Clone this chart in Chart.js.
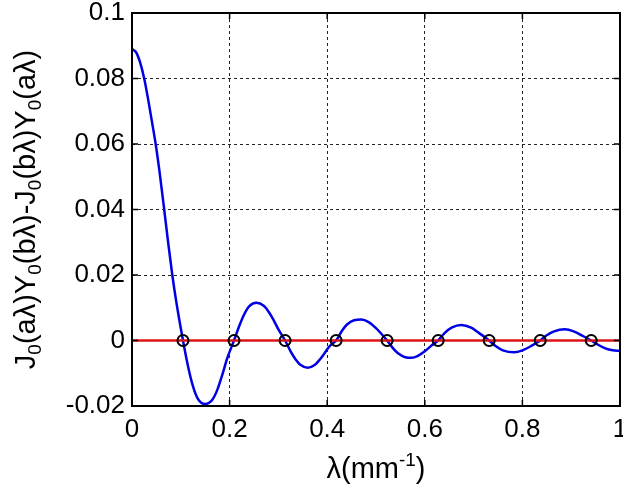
<!DOCTYPE html>
<html>
<head>
<meta charset="utf-8">
<script src="https://cdn.jsdelivr.net/npm/chart.js@4"></script>
<style>
  html, body { margin: 0; padding: 0; background: #fff; }
  #wrap { width: 623px; height: 491px; }
</style>
</head>
<body>
<div id="wrap"><canvas id="chart" width="623" height="491"></canvas></div>
<script>
// values
const lambdaValues = [
  0, 0.008, 0.016, 0.025, 0.033, 0.041, 0.0485, 0.056, 0.066, 0.074, 0.0826, 0.09, 0.1045,
  0.115, 0.125, 0.135, 0.15, 0.165, 0.175, 0.185, 0.195, 0.209,
  0.22, 0.23, 0.24, 0.255, 0.27, 0.28, 0.29, 0.30, 0.3137,
  0.325, 0.335, 0.345, 0.36, 0.375, 0.385, 0.395, 0.405, 0.4183,
  0.43, 0.44, 0.455, 0.47, 0.485, 0.50, 0.51, 0.5228,
  0.535, 0.545, 0.56, 0.573, 0.585, 0.60, 0.615, 0.6274,
  0.64, 0.655, 0.675, 0.695, 0.71, 0.7319,
  0.745, 0.76, 0.783, 0.80, 0.82, 0.8365,
  0.85, 0.865, 0.887, 0.905, 0.925, 0.941,
  0.955, 0.97, 0.985, 1.0
];
const crossValues = [
  0.0890, 0.0881, 0.0852, 0.0800, 0.0737, 0.0667, 0.0600, 0.0520, 0.0400, 0.0300, 0.0200, 0.0125, 0,
  -0.0080, -0.0140, -0.0178, -0.0194, -0.0180, -0.0150, -0.0105, -0.0055, 0,
  0.0045, 0.0080, 0.0104, 0.0115, 0.0106, 0.0088, 0.0063, 0.0034, 0,
  -0.0033, -0.0057, -0.0074, -0.0083, -0.0074, -0.0058, -0.0038, -0.0017, 0,
  0.0029, 0.0048, 0.0062, 0.0064, 0.0056, 0.0038, 0.0022, 0,
  -0.0024, -0.0039, -0.0051, -0.0053, -0.0048, -0.0033, -0.0014, 0,
  0.0022, 0.0039, 0.0047, 0.0039, 0.0024, 0,
  -0.0017, -0.0030, -0.0036, -0.0030, -0.0015, 0,
  0.0016, 0.0028, 0.0034, 0.0028, 0.0013, 0,
  -0.0013, -0.0024, -0.0030, -0.0032
];
const zeroCrossings = [0.1045, 0.209, 0.3137, 0.4183, 0.5228, 0.6274, 0.7319, 0.8365, 0.941];
const baseLineX = [0, 1];
const baseLineY = [0, 0];

const xTickLabels = ['0', '0.2', '0.4', '0.6', '0.8', '1'];
const yTickLabels = ['-0.02', '0', '0.02', '0.04', '0.06', '0.08', '0.1'];

const tickFont = '"Liberation Sans", Arial, sans-serif';

// draw text with sub/superscripts, centred on cx, baseline at by
function drawRich(ctx, parts, cx, by, size) {
  const small = Math.round(size * 0.66);
  let total = 0;
  for (const p of parts) {
    ctx.font = `${p[1] ? small : size}px ${tickFont}`;
    total += ctx.measureText(p[0]).width;
  }
  let x = cx - total / 2;
  ctx.textAlign = 'left';
  ctx.textBaseline = 'alphabetic';
  for (const p of parts) {
    ctx.font = `${p[1] ? small : size}px ${tickFont}`;
    const dy = p[1] === 1 ? size * 0.22 : p[1] === -1 ? -size * 0.42 : 0;
    ctx.fillText(p[0], x, by + dy);
    x += ctx.measureText(p[0]).width;
  }
}

const matlabFrame = {
  id: 'matlabFrame',
  afterDraw(chart) {
    const ctx = chart.ctx;
    const a = chart.chartArea;
    const xs = chart.scales.x;
    const ys = chart.scales.y;
    ctx.save();
    ctx.strokeStyle = '#000';
    ctx.lineWidth = 1.5;
    ctx.beginPath();
    for (let i = 0; i < xTickLabels.length; i++) {
      const px = xs.getPixelForValue(i * 0.2);
      ctx.moveTo(px, a.bottom); ctx.lineTo(px, a.bottom - 6);
      ctx.moveTo(px, a.top); ctx.lineTo(px, a.top + 6);
    }
    for (let i = 0; i < yTickLabels.length; i++) {
      const py = ys.getPixelForValue(-0.02 + i * 0.02);
      ctx.moveTo(a.left, py); ctx.lineTo(a.left + 6, py);
      ctx.moveTo(a.right, py); ctx.lineTo(a.right - 6, py);
    }
    ctx.stroke();
    ctx.lineWidth = 2;
    ctx.strokeRect(a.left, a.top, a.right - a.left, a.bottom - a.top);

    ctx.fillStyle = '#000';
    drawRich(ctx, [['λ(mm', 0], ['-1', -1], [')', 0]], (a.left + a.right) / 2, 478, 29);

    ctx.translate(35, (a.top + a.bottom) / 2);
    ctx.rotate(-Math.PI / 2);
    drawRich(ctx, [
      ['J', 0], ['0', 1], ['(aλ)Y', 0], ['0', 1], ['(bλ)-J', 0], ['0', 1],
      ['(bλ)Y', 0], ['0', 1], ['(aλ)', 0]
    ], 0, 0, 29);
    ctx.restore();
  }
};

new Chart(
  document.getElementById('chart'),
  {
    type: 'scatter',
    data: {
      datasets: [
        {
          label: 'circles',
          data: zeroCrossings.map(x => ({ x: x, y: 0 })),
          showLine: false,
          pointRadius: 5.5,
          pointBorderWidth: 2,
          pointBorderColor: '#000',
          pointBackgroundColor: 'rgba(0,0,0,0)',
          order: 0
        },
        {
          label: 'zero',
          data: baseLineX.map((x, i) => ({ x: x, y: baseLineY[i] })),
          showLine: true,
          borderColor: 'rgb(220,20,20)',
          borderWidth: 2.5,
          pointRadius: 0,
          order: 1
        },
        {
          label: 'curve',
          data: lambdaValues.map((x, i) => ({ x: x, y: crossValues[i] })),
          showLine: true,
          borderColor: '#0000e6',
          borderWidth: 2.5,
          pointRadius: 0,
          cubicInterpolationMode: 'monotone',
          order: 2
        }
      ]
    },
    options: {
      responsive: false,
      animation: false,
      events: [],
      layout: {
        autoPadding: false,
        padding: { left: 0, right: 3, top: 13, bottom: 0 }
      },
      plugins: {
        legend: { display: false },
        tooltip: { enabled: false }
      },
      scales: {
        x: {
          type: 'linear',
          min: 0,
          max: 1,
          afterFit: (scale) => {
            scale.height = 85;
            scale.paddingLeft = 0;
            scale.paddingRight = 0;
          },
          afterBuildTicks: (scale) => {
            scale.ticks = xTickLabels.map((t, i) => ({ value: i * 0.2 }));
          },
          ticks: {
            autoSkip: false,
            maxRotation: 0,
            padding: 8,
            color: '#000',
            font: { family: tickFont, size: 26 },
            callback: (v, i) => xTickLabels[i]
          },
          grid: {
            color: '#222',
            lineWidth: 1,
            drawTicks: false
          },
          border: { display: false, dash: [3, 3] }
        },
        y: {
          type: 'linear',
          min: -0.02,
          max: 0.1,
          afterFit: (scale) => {
            scale.width = 132;
            scale.paddingTop = 0;
            scale.paddingBottom = 0;
          },
          afterBuildTicks: (scale) => {
            scale.ticks = yTickLabels.map((t, i) => ({ value: -0.02 + i * 0.02 }));
          },
          ticks: {
            autoSkip: false,
            padding: 7,
            color: '#000',
            font: { family: tickFont, size: 26 },
            callback: (v, i) => yTickLabels[i]
          },
          grid: {
            color: '#222',
            lineWidth: 1,
            drawTicks: false
          },
          border: { display: false, dash: [3, 3] }
        }
      }
    },
    plugins: [matlabFrame]
  }
);
</script>
</body>
</html>
